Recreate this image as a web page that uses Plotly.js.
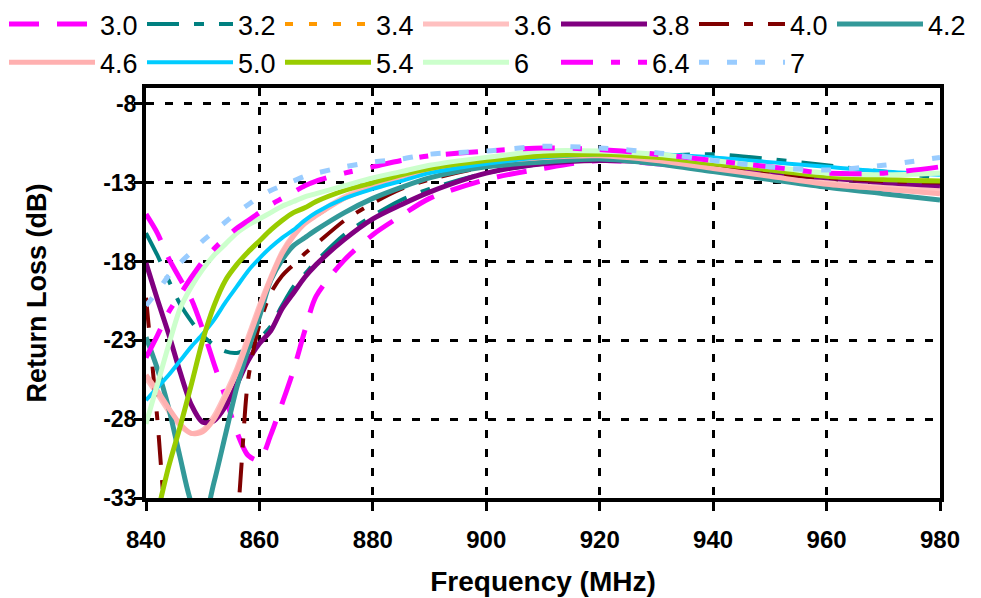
<!DOCTYPE html>
<html>
<head>
<meta charset="utf-8">
<script src="https://cdn.plot.ly/plotly-3.0.1.min.js"></script>
<style>html,body{margin:0;padding:0;background:#fff}#chart{width:981px;height:598px}</style>
</head>
<body>
<div id="chart"></div>
<script>
var freq = [840,842,844,846,848,850,852,854,856,858,860,862,864,866,868,870,875,880,885,890,900,910,920,930,940,950,960,970,980];
var seriesNames = ["3.0","3.2","3.4","3.6","3.8","4.0","4.2","4.6","5.0","5.4","6","6.4","7"];
var s30 = [-15.0,-16.2,-17.8,-19.1,-20.4,-22.3,-24.5,-26.6,-28.8,-30.3,-30.6,-29.0,-27.0,-24.9,-22.4,-20.2,-17.9,-16.3,-15.1,-14.0,-12.8,-12.1,-11.6,-11.8,-12.2,-12.7,-13.1,-13.4,-13.6];
var s32 = [-16.2,-17.6,-19.2,-20.7,-21.8,-22.7,-23.3,-23.7,-23.8,-23.5,-22.9,-22.1,-20.8,-19.6,-18.8,-18.0,-16.3,-15.1,-14.1,-13.4,-12.4,-11.8,-11.5,-11.3,-11.2,-11.5,-11.9,-12.3,-12.7];
var s34 = [-25.3,-26.3,-27.4,-28.3,-28.9,-28.8,-27.9,-26.5,-24.9,-22.9,-20.9,-19.0,-17.5,-16.4,-15.6,-15.1,-14.0,-13.3,-12.6,-12.2,-11.7,-11.4,-11.3,-11.6,-12.1,-12.6,-13.1,-13.4,-13.6];
var s36 = [-25.4,-26.4,-27.5,-28.4,-28.9,-28.7,-27.8,-26.4,-24.8,-22.8,-20.8,-19.0,-17.4,-16.3,-15.5,-15.0,-13.9,-13.2,-12.6,-12.2,-11.7,-11.4,-11.3,-11.5,-12.0,-12.5,-13.0,-13.3,-13.5];
var s38 = [-18.1,-20.4,-22.6,-25.0,-27.1,-28.2,-28.1,-27.2,-25.8,-24.3,-23.2,-22.4,-21.0,-20.0,-19.0,-18.2,-16.6,-15.3,-14.4,-13.6,-12.4,-11.8,-11.6,-11.7,-12.0,-12.4,-12.7,-13.0,-13.2];
var s40 = [-20.3,-28.0,-36.5,-40.0,-41.0,-41.0,-40.0,-38.0,-34.5,-25.5,-22.0,-20.0,-18.9,-18.2,-17.5,-16.9,-15.4,-14.3,-13.4,-12.8,-12.0,-11.7,-11.5,-11.7,-12.0,-12.4,-12.7,-12.9,-13.0];
var s42 = [-22.8,-24.8,-27.3,-30.4,-33.3,-34.5,-32.0,-29.0,-26.0,-23.6,-21.5,-19.2,-17.9,-17.0,-16.5,-16.0,-14.9,-14.0,-13.3,-12.7,-12.0,-11.7,-11.5,-11.8,-12.3,-12.8,-13.3,-13.7,-14.1];
var s46 = [-25.2,-26.2,-27.3,-28.3,-28.9,-28.8,-28.0,-26.6,-25.0,-23.0,-21.0,-19.1,-17.5,-16.4,-15.6,-15.1,-14.0,-13.3,-12.6,-12.2,-11.7,-11.4,-11.3,-11.6,-12.1,-12.6,-13.1,-13.4,-13.7];
var s50 = [-26.8,-26.0,-25.2,-24.3,-23.4,-22.6,-21.7,-20.6,-19.6,-18.6,-17.8,-17.1,-16.5,-16.0,-15.4,-14.9,-14.0,-13.4,-12.9,-12.4,-11.8,-11.4,-11.2,-11.2,-11.4,-11.7,-12.0,-12.3,-12.5];
var s54 = [-37.0,-34.0,-31.0,-28.5,-25.8,-23.0,-20.8,-19.2,-18.2,-17.4,-16.7,-16.0,-15.4,-14.9,-14.6,-14.2,-13.5,-13.0,-12.5,-12.1,-11.6,-11.3,-11.2,-11.4,-11.8,-12.2,-12.6,-12.8,-12.9];
var s60 = [-28.3,-25.8,-23.3,-21.0,-19.6,-18.5,-17.6,-16.9,-16.2,-15.7,-15.3,-14.9,-14.5,-14.2,-13.9,-13.7,-13.2,-12.7,-12.3,-11.9,-11.4,-11.0,-11.0,-11.2,-11.6,-12.0,-12.4,-12.5,-12.4];
var s64 = [-24.1,-22.7,-21.2,-20.1,-19.0,-18.0,-17.2,-16.5,-15.9,-15.4,-14.9,-14.4,-14.0,-13.6,-13.2,-12.9,-12.4,-12.0,-11.6,-11.3,-11.0,-10.8,-10.9,-11.2,-11.6,-12.0,-12.4,-12.4,-12.0];
var s70 = [-20.8,-19.9,-18.9,-18.1,-17.4,-16.7,-16.1,-15.5,-14.9,-14.4,-13.9,-13.5,-13.2,-12.9,-12.6,-12.4,-12.0,-11.7,-11.5,-11.2,-11.0,-10.7,-10.8,-11.1,-11.6,-12.0,-12.2,-11.9,-11.4];
var xTicks = [840,860,880,900,920,940,960,980];
var yTicks = [-33,-28,-23,-18,-13,-8];

var values = [s30,s32,s34,s36,s38,s40,s42,s46,s50,s54,s60,s64,s70];
var styles = [
  {color:'#FF00FF', width:5, dash:'30px,18px'},
  {color:'#008080', width:4, dash:'32px,15px,10px,15px'},
  {color:'#FF9900', width:4, dash:'8px,16px'},
  {color:'#FFC0C0', width:5, dash:'solid'},
  {color:'#800080', width:5, dash:'solid'},
  {color:'#800000', width:4, dash:'30px,15px,9px,15px'},
  {color:'#339999', width:5, dash:'solid'},
  {color:'#FFB0B0', width:5, dash:'solid'},
  {color:'#00CCFF', width:4, dash:'solid'},
  {color:'#99CC00', width:5, dash:'solid'},
  {color:'#CCFFCC', width:5, dash:'solid'},
  {color:'#FF00FF', width:5, dash:'32px,18px,9px,18px'},
  {color:'#99CCFF', width:5, dash:'10px,18px'}
];
var traces = seriesNames.map(function(n,i){
  return {x:freq, y:values[i], name:n, type:'scatter', mode:'lines',
          line:{color:styles[i].color, width:styles[i].width, dash:styles[i].dash, shape:'spline', smoothing:0.8}};
});
var FN = '"Liberation Sans", Arial, sans-serif';
// plot area: x 146..940, y 88..498; right margin 0 with a reduced x domain so the legend may span the full width
var gsW = 981 - 146;
var layout = {
  width:981, height:598,
  margin:{l:146, r:0, t:88, b:100},
  paper_bgcolor:'#fff', plot_bgcolor:'#fff',
  showlegend:true,
  legend:{orientation:'h', x:(4-146)/gsW, xanchor:'left', y:1 + 88/410, yanchor:'top',
          entrywidth:37, entrywidthmode:'pixels', itemwidth:86,
          font:{family:FN, size:27, color:'#000'}, tracegroupgap:0, bgcolor:'rgba(0,0,0,0)'},
  xaxis:{domain:[0, 794/gsW], range:[840,980], tickvals:xTicks, ticktext:xTicks.map(String), showgrid:true, gridcolor:'#000', gridwidth:3, griddash:'8px,11px',
         showline:true, linecolor:'#000', linewidth:4, mirror:true, ticks:'outside', ticklen:9, tickwidth:3, tickcolor:'#000',
         zeroline:false, ticklabelstandoff:8,
         tickfont:{family:FN, size:24, color:'#000', weight:'bold'},
         title:{text:'Frequency (MHz)', font:{family:FN, size:28, color:'#000', weight:'bold'}, standoff:21}},
  yaxis:{range:[-33,-7], tickvals:yTicks, ticktext:yTicks.map(String), showgrid:true, gridcolor:'#000', gridwidth:3, griddash:'8px,11px',
         showline:true, linecolor:'#000', linewidth:4, mirror:true, ticks:'outside', ticklen:8, tickwidth:3, tickcolor:'#000',
         zeroline:false, ticklabelstandoff:-7,
         tickfont:{family:FN, size:23, color:'#000', weight:'bold'},
         title:{text:'Return Loss (dB)', font:{family:FN, size:27, color:'#000', weight:'bold'}, standoff:50}}
};
Plotly.newPlot('chart', traces, layout, {displayModeBar:false, staticPlot:true});
</script>
</body>
</html>
